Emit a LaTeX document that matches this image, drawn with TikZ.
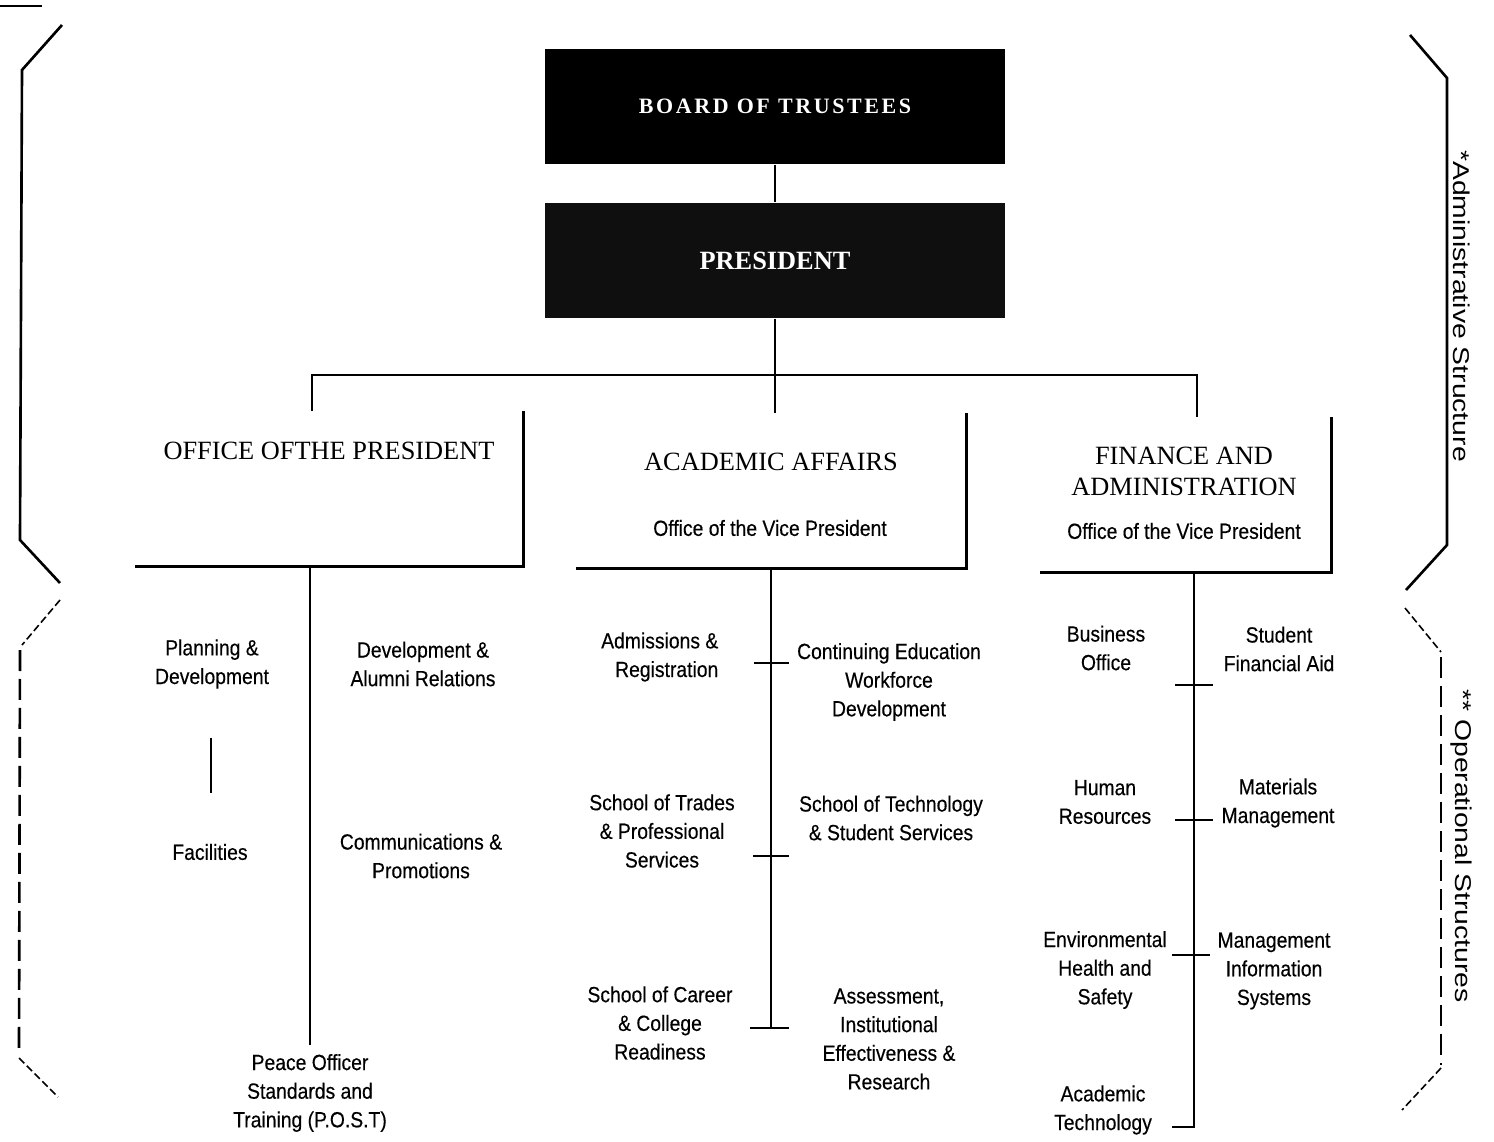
\documentclass[tikz,border=0pt]{standalone}
\usepackage{fontspec}
\setmainfont{Liberation Serif}
\newfontfamily\orgsans[FakeStretch=0.88, FakeBold=0.35]{Liberation Sans}
\newfontfamily\sidesans{Liberation Sans}

\begin{document}
\begin{tikzpicture}[x=0.02cm, y=-0.02cm, thick,
    topbox/.style = {fill=black, text=white, inner sep=0pt, minimum width=9.22cm, minimum height=2.3cm},
    hdbox/.style = {anchor=north west, inner sep=0pt, minimum height=3.08cm},
    headtxt/.style = {font=\fontsize{15}{17.6}\selectfont, align=center, inner sep=0pt},
    unitnode/.style = {font=\orgsans\fontsize{12.5}{16.3}\selectfont, align=center, inner sep=0pt},
    sidelabel/.style = {font=\sidesans\fontsize{13}{15}\selectfont, rotate=-90, inner sep=0pt},
    link/.style = {line width=1.2pt},
    rim/.style = {line width=1.7pt},
    brace/.style = {line width=1.5pt},
    dbrace/.style = {line width=1.5pt, dash pattern=on 0.42cm off 0.16cm},
    dslant/.style = {line width=0.9pt, dash pattern=on 0.15cm off 0.07cm}]
    \useasboundingbox (0,0) rectangle (1494,1142);

    % Nodes
    \node[topbox] (board) at (775,106.5) {\bfseries\fontsize{12.5}{15}\selectfont\addfontfeature{LetterSpace=12}BOARD OF TRUSTEES};
    \node[topbox, fill=black!94] (pres) at (775,260.5) {\bfseries\fontsize{15}{18}\selectfont PRESIDENT};

    \node[hdbox, minimum width=7.74cm] (opbox) at (135,411) {};
    \node[hdbox, minimum width=7.78cm] (aabox) at (576,413) {};
    \node[hdbox, minimum width=5.8cm] (fabox) at (1040,417) {};

    \node[headtxt] (op) at (329,451) {OFFICE OFTHE PRESIDENT};
    \node[headtxt] (aa) at (771,462) {ACADEMIC AFFAIRS};
    \node[unitnode] (aavp) at (770,528) {Office of the Vice President};
    \node[headtxt] (fa) at (1184,471) {FINANCE AND\\ADMINISTRATION};
    \node[unitnode] (favp) at (1184,531) {Office of the Vice President};

    \node[unitnode] (plan) at (212,664) {Planning \&\\Development};
    \node[unitnode] (fac) at (210,852) {Facilities};
    \node[unitnode] (alum) at (423,664) {Development \&\\Alumni Relations};
    \node[unitnode] (comm) at (421,856) {Communications \&\\Promotions};
    \node[unitnode] (post) at (310,1093) {Peace Officer\\Standards and\\Training (P.O.S.T)};

    \node[unitnode, align=right, anchor=east] (adm) at (719,657) {Admissions \&\\Registration};
    \node[unitnode] (cont) at (889,682) {Continuing Education\\Workforce\\Development};
    \node[unitnode] (trades) at (662,831) {School of Trades\\\& Professional\\Services};
    \node[unitnode] (tech) at (891,818) {School of Technology\\\& Student Services};
    \node[unitnode] (career) at (660,1023) {School of Career\\\& College\\Readiness};
    \node[unitnode] (assess) at (889,1039) {Assessment,\\Institutional\\Effectiveness \&\\Research};

    \node[unitnode] (bus) at (1106,648) {Business\\Office};
    \node[unitnode] (aid) at (1279,649) {Student\\Financial Aid};
    \node[unitnode] (hr) at (1105,802) {Human\\Resources};
    \node[unitnode] (mat) at (1278,803) {Materials\\Management};
    \node[unitnode] (env) at (1105,970) {Environmental\\Health and\\Safety};
    \node[unitnode] (mis) at (1274,971) {Management\\Information\\Systems};
    \node[unitnode] (acte) at (1103,1110) {Academic\\Technology};

    \node[sidelabel] (admin) at (1462,306) {\scalebox{1.24}[1]{*Administrative Structure}};
    \node[sidelabel] (oper) at (1461,846) {\scalebox{1.24}[1]{** Operational Structures}};

    % Edges
    \coordinate (busL) at (312,375);
    \coordinate (busR) at (1197,375);
    \draw[link] (board) -- (pres);
    \draw[link] (pres.south) -- (pres.south |- aabox.north);
    \draw[link] (busL |- opbox.north) -- (busL) -- (busR) -- (busR |- fabox.north);

    % Header boxes, right and bottom sides only
    \draw[rim] (opbox.north east) -- (opbox.south east) -- (opbox.south west);
    \draw[rim] (aabox.north east) -- (aabox.south east) -- (aabox.south west);
    \draw[rim] (fabox.north east) -- (fabox.south east) -- (fabox.south west);

    % Office of the President
    \coordinate (pf1) at (211,738);
    \coordinate (pf2) at (211,793);
    \draw[link] (opbox.south -| post.north) -- ([yshift=0.16cm]post.north);
    \draw[link] (pf1) -- (pf2);

    % Academic Affairs
    \coordinate (aat1) at (771,663);
    \coordinate (aat2) at (771,856);
    \coordinate (aaend) at (771,1028);
    \draw[link] (aabox.south -| aaend) -- (aaend);
    \draw[link] (aat1) ++(-17,0) -- ++(35,0);
    \draw[link] (aat2) ++(-18,0) -- ++(36,0);
    \draw[link] (aaend) ++(-21,0) -- ++(39,0);

    % Finance and Administration
    \coordinate (fat1) at (1194,685);
    \coordinate (fat2) at (1194,820);
    \coordinate (fat3) at (1194,955);
    \coordinate (faend) at (1194,1127);
    \draw[link] (fabox.south -| faend) -- (faend) -- ++(-22,0);
    \draw[link] (fat1) ++(-19,0) -- ++(38,0);
    \draw[link] (fat2) ++(-19,0) -- ++(38,0);
    \draw[link] (fat3) ++(-22,0) -- ++(38,0);

    % Brackets
    \draw[line width=0.8pt] (0,6) -- (42,6);
    \draw[brace] (62,25) -- (22,70) -- (20,540) -- (60,583);
    \draw[brace] (1410,35) -- (1447,78) -- (1447,545) -- (1406,590);
    \draw[dslant] (60,600) -- (22,645);
    \draw[dbrace] (20,650) -- (19,1055);
    \draw[dslant] (19,1058) -- (58,1097);
    \draw[dslant] (1405,608) -- (1441,652);
    \draw[dbrace] (1441,657) -- (1441,1065);
    \draw[dslant] (1441,1068) -- (1402,1110);

\end{tikzpicture}
\end{document}
